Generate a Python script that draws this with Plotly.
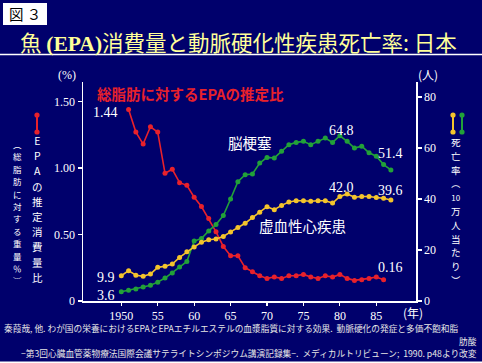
import plotly.graph_objects as go

# ---------------- data ----------------
epa_years = list(range(1951, 1987))
epa_ratio = [1.44, 1.27, 1.18, 1.31, 1.27, 0.96, 0.99, 0.89, 0.87, 0.78,
             0.71, 0.62, 0.52, 0.41, 0.34, 0.34, 0.25, 0.22, 0.19, 0.17,
             0.18, 0.17, 0.19, 0.19, 0.20, 0.18, 0.17, 0.19, 0.18, 0.20,
             0.17, 0.155, 0.16, 0.17, 0.18, 0.16]

mort_years = list(range(1950, 1988))
cerebral_infarction = [3.6, 4.2, 4.7, 5.5, 6.2, 7.4, 9.0, 11.0, 13.3, 15.5,
                       23.5, 24.5, 27.5, 30.0, 33.5, 40.0, 46.8, 49.5, 49.8, 54.1,
                       56.3, 56.1, 58.7, 61.3, 62.2, 62.6, 61.3, 62.6, 63.9, 62.2,
                       64.8, 62.6, 60.0, 60.7, 58.1, 56.8, 53.5, 51.4]
ischemic_heart = [9.9, 11.9, 10.1, 9.7, 10.6, 13.2, 13.6, 14.5, 17.1, 19.3,
                  21.2, 23.0, 24.0, 24.3, 25.3, 27.1, 28.8, 30.5, 32.7, 34.8,
                  37.0, 35.8, 37.5, 38.8, 39.3, 39.3, 39.1, 39.3, 39.3, 38.4,
                  41.0, 42.0, 40.7, 41.0, 41.0, 40.6, 40.3, 39.6]

x_tick_vals = [1950, 1955, 1960, 1965, 1970, 1975, 1980, 1985]
x_tick_text = ["1950", "55", "60", "65", "70", "75", "80", "85"]
left_tick_vals = [0, 0.5, 1.0, 1.5]
left_tick_text = ["0", "0.50", "1.00", "1.50"]
right_tick_vals = [0, 20, 40, 60, 80]
right_tick_text = ["0", "20", "40", "60", "80"]

# ---------------- style ----------------
W, H = 482, 363
L, R, T, B = 83, 416, 82, 301
NAVY = "#00006c"
RED = "#e8212b"
GREEN = "#22a139"
YELLOW = "#f4c42c"
SERIF = "Liberation Serif, Times New Roman, serif"
CJK = "Noto Sans CJK JP, sans-serif"


def px(x, y):
    return (x - L) / (R - L), (B - y) / (B - T)


fig = go.Figure()
fig.add_trace(go.Scatter(x=epa_years, y=epa_ratio, mode="lines+markers",
                         line=dict(color=RED, width=1.6),
                         marker=dict(color=RED, size=5), yaxis="y"))
fig.add_trace(go.Scatter(x=mort_years, y=cerebral_infarction, mode="lines+markers",
                         line=dict(color=GREEN, width=1.6),
                         marker=dict(color=GREEN, size=5), yaxis="y2"))
fig.add_trace(go.Scatter(x=mort_years, y=ischemic_heart, mode="lines+markers",
                         line=dict(color=YELLOW, width=1.6),
                         marker=dict(color=YELLOW, size=5), yaxis="y2"))

annotations = []
shapes = []


def text(x, y, s, size=12, color="white", family=SERIF, xanchor="center", yanchor="middle"):
    xp, yp = px(x, y)
    annotations.append(dict(x=xp, y=yp, xref="paper", yref="paper", text=s,
                            showarrow=False, xanchor=xanchor, yanchor=yanchor,
                            font=dict(size=size, color=color, family=family)))


def vcol(x, ymid, chars, char_size, spacing, sizes=None):
    """Vertical (tategaki-style) column of upright characters."""
    parts = []
    for i, c in enumerate(chars):
        sz = sizes[i] if sizes else char_size
        parts.append("<span style='font-size:%.1fpx'>%s</span>" % (sz, c))
    text(x, ymid, "<br>".join(parts), size=spacing / 1.3, family=CJK)


def icon(x, y0, y1, color):
    a0, b0 = px(x, y0)
    a1, b1 = px(x, y1)
    shapes.append(dict(type="line", xref="paper", yref="paper", x0=a0, x1=a1, y0=b0, y1=b1,
                       line=dict(color=color, width=2)))
    for yy in (y0, y1):
        c0 = px(x - 2.6, yy - 2.6)
        c1 = px(x + 2.6, yy + 2.6)
        shapes.append(dict(type="circle", xref="paper", yref="paper",
                           x0=c0[0], x1=c1[0], y0=c0[1], y1=c1[1],
                           fillcolor=color, line=dict(color=color, width=0)))


# header
r0 = px(3, 3); r1 = px(47, 25)
shapes.append(dict(type="rect", xref="paper", yref="paper", x0=r0[0], x1=r1[0], y0=r0[1], y1=r1[1],
                   fillcolor="white", line=dict(width=0), layer="below"))
text(25, 13, "図 ３", size=14.5, color="black", family=CJK)
l0 = px(0, 54.5); l1 = px(W, 54.5)
shapes.append(dict(type="line", xref="paper", yref="paper", x0=l0[0], x1=l1[0], y0=l0[1], y1=l1[1],
                   line=dict(color="white", width=1.6)))
text(238.5, 41, "魚 <b><span style='font-family:Liberation Serif'>(EPA)</span></b>消費量と動脈硬化性疾患死亡率: 日本",
     size=21.5, color="#ffff99", family=CJK)

# unit labels
text(67, 75, "(%)", size=12)
text(428, 74, "(人)", size=12, family=CJK)
text(413, 312, "(年)", size=12, family=CJK)

# left axis title (vertical, stacked characters)
icon(37, 115, 132, RED)
vcol(37.5, 208.5, ["E", "P", "A", "の", "推", "定", "消", "費", "量", "比"], 10.5, 15.2)
vcol(17, 211.5, ["︵", "総", "脂", "肪", "に", "対", "す", "る", "重", "量", "％", "︶"], 8.5, 12.4)

# right axis title
icon(453, 115, 132, YELLOW)
icon(462, 115, 132, GREEN)
vcol(456, 210.5, ["死", "亡", "率", "︵", "10", "万", "人", "当", "た", "り", "︶"], 9.5, 13.8,
     sizes=[9.5, 9.5, 9.5, 9, 8, 9.5, 9.5, 9.5, 9.5, 9.5, 9])

# series labels
text(95, 93, "<b>総脂肪に対するEPAの推定比</b>", size=14.5, color=RED, family=CJK, xanchor="left")
text(250, 142, "脳梗塞", size=14.5, family=CJK)
text(302.5, 225, "虚血性心疾患", size=14.5, family=CJK)

# value labels
text(105, 112, "1.44", size=14)
text(341.7, 130, "64.8", size=14)
text(390, 153, "51.4", size=14)
text(341.7, 187, "42.0", size=14)
text(390, 190, "39.6", size=14)
text(390, 267, "0.16", size=14)
text(117, 277.5, "9.9", size=14, xanchor="right")
text(117, 295, "3.6", size=14, xanchor="right")

# caption
cap_color = "#e6e6e6"
text(2, 328.5, "秦葭哉, 他. わが国の栄養におけるEPAとEPAエチルエステルの血漿脂質に対する効果.  動脈硬化の発症と多価不飽和脂",
     size=8.7, color=cap_color, family=CJK, xanchor="left")
text(479, 341, "肪酸", size=8.7, color=cap_color, family=CJK, xanchor="right")
text(479, 353.5, "−第3回心臓血管薬物療法国際会議サテライトシンポジウム講演記録集−.  メディカルトリビューン;  1990. p48より改変",
     size=8.7, color=cap_color, family=CJK, xanchor="right")

# bottom white edge
b0 = px(0, 361.5); b1 = px(W, H + 1)
shapes.append(dict(type="rect", xref="paper", yref="paper", x0=b0[0], x1=b1[0], y0=b0[1], y1=b1[1],
                   fillcolor="white", line=dict(width=0)))

x_lo = 1950 - (121.3 - L) / 7.286
x_hi = 1950 + (R - 121.3) / 7.286

axis_common = dict(showgrid=False, zeroline=False, showline=True, linecolor="white", linewidth=1.5,
                   ticks="outside", ticklen=4, tickcolor="white", tickwidth=1.2,
                   tickfont=dict(family=SERIF, size=12, color="white"))

fig.update_layout(
    width=W, height=H, autosize=False,
    margin=dict(l=L, r=W - R, t=T, b=H - B, pad=0),
    paper_bgcolor=NAVY, plot_bgcolor=NAVY,
    showlegend=False,
    xaxis=dict(range=[x_lo, x_hi], tickvals=x_tick_vals, ticktext=x_tick_text,
               **{**axis_common, "ticklen": 3}),
    yaxis=dict(range=[0, (B - T) / 133.0], tickvals=left_tick_vals, ticktext=left_tick_text,
               **axis_common),
    yaxis2=dict(range=[0, (B - T) / 2.55], tickvals=right_tick_vals, ticktext=right_tick_text,
                overlaying="y", side="right", **axis_common),
    annotations=annotations,
    shapes=shapes,
)

fig.write_html("out.html",
               config={"displayModeBar": False, "staticPlot": True},
               post_script="document.body.style.margin='0';document.body.style.padding='0';"
                           "document.body.style.overflow='hidden';")
